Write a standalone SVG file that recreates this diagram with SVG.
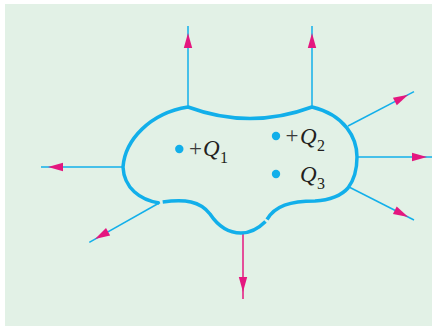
<svg xmlns="http://www.w3.org/2000/svg" xmlns:xlink="http://www.w3.org/1999/xlink" width="432" height="327" viewBox="0 0 432 327">
<style>
.bg{fill:#e2f1e6}
.outline{fill:none;stroke:#12afea;stroke-width:3.5;stroke-linecap:butt;stroke-linejoin:miter}
.ray{fill:none;stroke:#12afea;stroke-width:1.5}
.ray.m{stroke:#e4177f}
.ah{fill:#e4177f}
.dot{fill:#12afea}
.lbl{font-family:"Liberation Serif","Times New Roman",serif;font-size:23px;fill:#231f20}
.plus{fill:#3a3a3a}
.q{font-style:italic}
.sub{font-size:16px}
</style>
<defs>
<path id="ah" d="M0,0 L-15,-4.2 L-15,4.2 Z"/>
</defs>
<rect class="bg" x="5" y="4" width="427" height="322"/>
<g id="connectors">
<line class="ray" x1="188" y1="107" x2="188" y2="26"/>
<line class="ray" x1="312" y1="107" x2="312" y2="26"/>
<line class="ray" x1="348" y1="126" x2="414" y2="91.7"/>
<line class="ray" x1="356" y1="157" x2="432" y2="157"/>
<line class="ray" x1="349" y1="187" x2="414" y2="220"/>
<line class="ray m" x1="243" y1="233" x2="243" y2="299"/>
<line class="ray" x1="160" y1="202.5" x2="89.3" y2="242.3"/>
<line class="ray" x1="123" y1="167" x2="41" y2="167"/>
<use class="ah" xlink:href="#ah" href="#ah" transform="translate(188,33) rotate(-90)"/>
<use class="ah" xlink:href="#ah" href="#ah" transform="translate(312,33) rotate(-90)"/>
<use class="ah" xlink:href="#ah" href="#ah" transform="translate(408.2,94.7) rotate(-27.3)"/>
<use class="ah" xlink:href="#ah" href="#ah" transform="translate(427,157)"/>
<use class="ah" xlink:href="#ah" href="#ah" transform="translate(408.2,217.1) rotate(26.9)"/>
<use class="ah" xlink:href="#ah" href="#ah" transform="translate(243,292) rotate(90)"/>
<use class="ah" xlink:href="#ah" href="#ah" transform="translate(95,239.1) rotate(150.7)"/>
<use class="ah" xlink:href="#ah" href="#ah" transform="translate(48,167) rotate(180)"/>
</g>
<g id="surface">
<path class="outline" d="M267,219.5 C275,206 290,201 315,201 C330,200.5 342,195 348,188 C354,180 357,168 357,157 C357,138 345,115 312,107 Q250,130 188,107 C150,113 125,140 123,167 C124,188 140,200 159.3,203"/>
<path class="outline" d="M162.7,202 C185,199 200,201 210,214 C218,226 228,233 241,233 C252,233 259,228 265.5,221.5"/>
</g>
<g id="q1">
<circle class="dot" cx="179.3" cy="149" r="4.2"/>
<text class="lbl plus" x="189" y="156">+</text>
<text class="lbl q" x="203" y="156">Q</text>
<text class="lbl sub" x="220" y="163">1</text>
</g>
<g id="q2">
<circle class="dot" cx="276" cy="136" r="4.2"/>
<text class="lbl plus" x="285.5" y="143">+</text>
<text class="lbl q" x="300" y="144">Q</text>
<text class="lbl sub" x="317" y="151">2</text>
</g>
<g id="q3">
<circle class="dot" cx="276" cy="174" r="4.2"/>
<text class="lbl q" x="300" y="182">Q</text>
<text class="lbl sub" x="317" y="189">3</text>
</g>
</svg>
